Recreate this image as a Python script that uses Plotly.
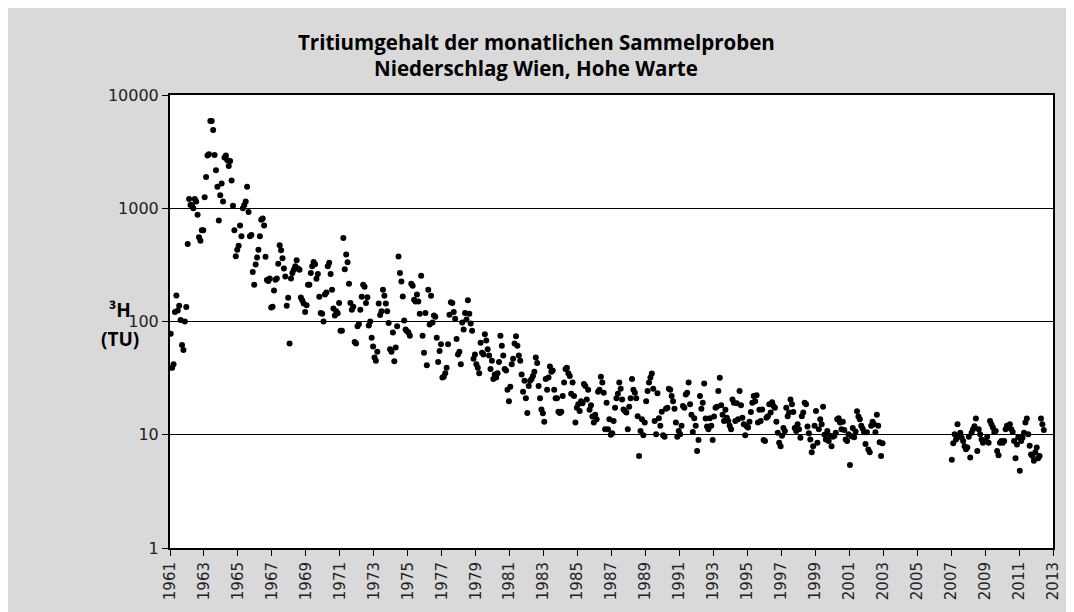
import plotly.graph_objects as go

# Monthly tritium values (TU), Vienna Hohe Warte precipitation
tu_1961 = [78, 39, 42, 121, 170, 125, 138, 103, 62, 56, 100, 134]
tu_1962 = [484, 1205, 1070, 1070, 1000, 1205, 1150, 877, 555, 516, 640, 640]
tu_1963 = [1250, 1890, 2925, 3000, 5890, 5890, 4900, 2950, 2170, 1550, 780, 1300]
tu_1964 = [1655, 1150, 2810, 2920, 2650, 2360, 2620, 1760, 1050, 640, 376, 430]
tu_1965 = [466, 703, 567, 1000, 1070, 1150, 1550, 927, 567, 580, 274, 211]
tu_1966 = [318, 367, 430, 567, 791, 811, 703, 373, 232, 228, 240, 133]
tu_1967 = [135, 188, 234, 240, 323, 472, 425, 361, 294, 250, 138, 162]
tu_1968 = [64, 240, 268, 287, 307, 347, 294, 287, 163, 153, 144, 121]
tu_1969 = [139, 211, 211, 268, 307, 336, 320, 238, 263, 165, 119, 117]
tu_1970 = [100, 173, 180, 307, 330, 263, 191, 130, 113, 123, 118, 146]
tu_1971 = [83, 83, 545, 290, 390, 333, 215, 146, 127, 135, 66, 64]
tu_1972 = [91, 95, 127, 165, 211, 203, 146, 164, 92, 100, 72, 60]
tu_1973 = [48, 45, 54, 144, 114, 123, 191, 169, 144, 123, 97, 57]
tu_1974 = [54, 80, 44.5, 59, 91, 374, 268, 226, 166, 102, 85, 82]
tu_1975 = [80, 75, 215, 207, 156, 150, 173, 150, 117, 254, 75, 53]
tu_1976 = [119, 41, 191, 94, 169, 98, 113, 110, 72, 44, 55, 63]
tu_1977 = [32, 32.5, 35, 39, 63, 115, 148, 146, 121, 106, 70, 51]
tu_1978 = [54, 42, 98, 85, 119, 104, 154, 117, 96, 83, 47, 51]
tu_1979 = [42, 39, 35, 65, 53, 51, 77, 68, 57, 50, 38, 45]
tu_1980 = [31, 34, 32, 35, 44, 75, 61, 50, 38, 37, 25, 19.8]
tu_1981 = [26.5, 42, 47, 64, 74, 61, 50, 45, 34, 24, 30, 21]
tu_1982 = [15.6, 27, 30, 31, 33, 36, 48, 43, 27, 21, 16.7, 15.5]
tu_1983 = [13, 31, 25, 32, 40, 36, 37, 25, 21, 21, 16, 15.6]
tu_1984 = [16, 22, 29, 38, 39, 35, 33, 23, 29, 22, 12.8, 17.3]
tu_1985 = [18.6, 16.2, 19.8, 19, 28, 27, 20.5, 25, 16.6, 18.2, 14.5, 12.8]
tu_1986 = [15, 13.7, 24, 25, 32.5, 29, 23.5, 11.2, 19.2, 11.2, 13.7, 10]
tu_1987 = [10.3, 13.2, 17.3, 21, 23, 29, 25.5, 20.5, 16.7, 16.2, 15.7, 11.2]
tu_1988 = [17.7, 21, 31, 25, 23.5, 21, 14.6, 6.5, 10.8, 13.7, 9.9, 12.8]
tu_1989 = [19.8, 24.3, 29, 32, 34.8, 25.5, 13.2, 10.1, 23.2, 14, 12, 16]
tu_1990 = [9.9, 9.6, 17, 17.3, 25.5, 25, 22, 19.8, 17, 12.8, 9.6, 10.8]
tu_1991 = [10.1, 12, 17.9, 17.3, 22.7, 23.5, 29, 18.6, 15, 10.6, 14, 12]
tu_1992 = [7.2, 9, 22, 17, 19.2, 28.4, 13.9, 11.8, 11.2, 14, 12, 9]
tu_1993 = [14.5, 17.3, 17.7, 24.3, 31.8, 18.2, 15, 13.2, 16.6, 14.1, 13.2, 12]
tu_1994 = [11.2, 20.5, 19.2, 13.2, 19, 13.7, 24.3, 18.2, 14.1, 12.4, 9.9, 11.9]
tu_1995 = [11.6, 13, 15.9, 19.2, 22, 19.8, 22.3, 12.8, 16.6, 13.2, 16.7, 9]
tu_1996 = [8.8, 14.1, 14.6, 18.6, 15.7, 19.4, 17.9, 17.3, 13, 10.4, 8.5, 7.9]
tu_1997 = [9.8, 11.5, 10.8, 17.3, 14.6, 15.7, 20.5, 18.6, 15.9, 11.5, 10.8, 12.4]
tu_1998 = [11.2, 9.4, 14.6, 15.7, 19.2, 18.6, 11.8, 10.3, 9.1, 7, 7.9, 12]
tu_1999 = [16.2, 8.5, 11.2, 13.7, 12.4, 17.7, 10, 9.1, 10.8, 8.8, 9.8, 7.9]
tu_2000 = [9.6, 9.8, 10.4, 13.7, 14, 12.8, 11.2, 13, 11, 9.1, 8.8, 10.1]
tu_2001 = [5.4, 9.7, 11.5, 9.5, 10.7, 16.1, 14.5, 13.7, 12, 11.3, 10.5, 8.3]
tu_2002 = [10.5, 7.4, 7, 12, 13, 12.4, 10.5, 15, 12, 8.6, 6.5, 8.4]
tu_2007 = [6.0, 8.4, 10.1, 9.1, 12.4, 9.8, 10.4, 9.4, 8.8, 7.9, 7.45, 7.7]
tu_2008 = [9.6, 6.3, 10.4, 11.2, 11.9, 13.9, 7.2, 11.2, 10.1, 9.1, 8.5, 8.8]
tu_2009 = [8.8, 9.6, 8.5, 13.2, 12.4, 11.6, 10.6, 10.8, 7.2, 6.6, 8.5, 8.8]
tu_2010 = [8.5, 8.8, 11.2, 12.0, 11.6, 12.4, 11.2, 10.6, 8.8, 6.2, 8.2, 9.5]
tu_2011 = [4.8, 8.8, 9.4, 10.4, 12.8, 13.9, 10.1, 8.0, 6.7, 6.5, 5.9, 7.0]
tu_2012 = [7.7, 6.2, 6.5, 13.9, 12.4, 11.0]

years_with_data = [1961, 1962, 1963, 1964, 1965, 1966, 1967, 1968, 1969, 1970,
                   1971, 1972, 1973, 1974, 1975, 1976, 1977, 1978, 1979, 1980,
                   1981, 1982, 1983, 1984, 1985, 1986, 1987, 1988, 1989, 1990,
                   1991, 1992, 1993, 1994, 1995, 1996, 1997, 1998, 1999, 2000,
                   2001, 2002, 2007, 2008, 2009, 2010, 2011, 2012]
yearly_series = [tu_1961, tu_1962, tu_1963, tu_1964, tu_1965, tu_1966, tu_1967, tu_1968,
                 tu_1969, tu_1970, tu_1971, tu_1972, tu_1973, tu_1974, tu_1975, tu_1976,
                 tu_1977, tu_1978, tu_1979, tu_1980, tu_1981, tu_1982, tu_1983, tu_1984,
                 tu_1985, tu_1986, tu_1987, tu_1988, tu_1989, tu_1990, tu_1991, tu_1992,
                 tu_1993, tu_1994, tu_1995, tu_1996, tu_1997, tu_1998, tu_1999, tu_2000,
                 tu_2001, tu_2002, tu_2007, tu_2008, tu_2009, tu_2010, tu_2011, tu_2012]

x_tick_years = list(range(1961, 2014, 2))
y_tick_values = [1, 10, 100, 1000, 10000]
y_tick_labels = ["1", "10", "100", "1000", "10000"]

title_lines = ["Tritiumgehalt der monatlichen Sammelproben", "Niederschlag Wien, Hohe Warte"]
y_label_lines = ["³H", "(TU)"]

xs, ys = [], []
for yr, vals in zip(years_with_data, yearly_series):
    for m, v in enumerate(vals):
        xs.append(yr + (m + 0.5) / 12.0)
        ys.append(v)

fig = go.Figure()
fig.add_trace(go.Scatter(
    x=xs, y=ys, mode="markers",
    marker=dict(color="black", size=6, line=dict(width=0)),
    showlegend=False, hoverinfo="x+y",
))

# The page body adds an 8 px offset; the figure fills the rest of the window.
W, H = 1066, 604
L, R, T, B = 162, 14, 87, 63
pw, ph = W - L - R, H - T - B

def px_x(p):
    return (p - L) / pw

def px_y(p):
    return (H - B - p) / ph

ann_font = dict(family="Open Sans", size=20.5, color="black")
lab_font = dict(family="Open Sans", size=19, color="black")

fig.update_layout(
    width=W, height=H,
    margin=dict(l=L, r=R, t=T, b=B, pad=0),
    paper_bgcolor="#D9D9D9",
    plot_bgcolor="white",
    annotations=[
        dict(text="<b>" + title_lines[0] + "</b>", xref="paper", yref="paper",
             x=px_x(531), y=px_y(34), xanchor="center", yanchor="middle", showarrow=False,
             font=ann_font),
        dict(text="<b>" + title_lines[1] + "</b>", xref="paper", yref="paper",
             x=px_x(531), y=px_y(60), xanchor="center", yanchor="middle", showarrow=False,
             font=ann_font),
        dict(text="<b>" + y_label_lines[0] + "</b>", xref="paper", yref="paper",
             x=px_x(112), y=px_y(302), xanchor="center", yanchor="middle", showarrow=False,
             font=lab_font),
        dict(text="<b>" + y_label_lines[1] + "</b>", xref="paper", yref="paper",
             x=px_x(112), y=px_y(332), xanchor="center", yanchor="middle", showarrow=False,
             font=lab_font),
    ],
    xaxis=dict(
        range=[1961, 2013], tickmode="array", tickvals=x_tick_years,
        ticktext=[str(t) for t in x_tick_years], tickangle=-90,
        ticks="outside", ticklen=6, tickcolor="black", tickwidth=1,
        showline=True, linecolor="black", linewidth=2, mirror=True,
        showgrid=False, zeroline=False,
        tickfont=dict(family="DejaVu Sans", size=15, color="#222222"),
    ),
    yaxis=dict(
        type="log", range=[0, 4], tickmode="array", tickvals=y_tick_values,
        ticktext=y_tick_labels,
        ticks="outside", ticklen=6, tickcolor="black", tickwidth=1,
        showline=True, linecolor="black", linewidth=2, mirror=True,
        showgrid=True, gridcolor="black", gridwidth=1, zeroline=False,
        tickfont=dict(family="DejaVu Sans", size=16, color="#222222"),
    ),
)

fig.write_html("out.html")
